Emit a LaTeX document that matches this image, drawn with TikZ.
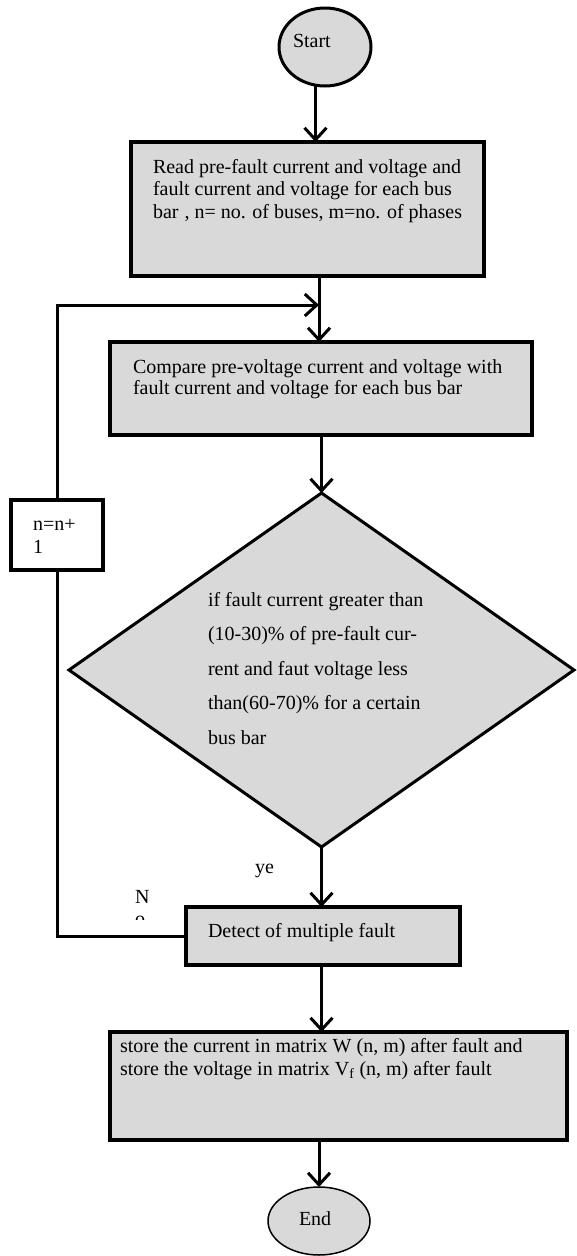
\documentclass[tikz,border=0pt]{standalone}
\usepackage{fontspec}
\setmainfont{Liberation Serif}
\usetikzlibrary{arrows.meta,shapes.geometric,calc}
\definecolor{boxgray}{HTML}{D9D9D9}
\newcommand\flowtext[2]{\parbox[t]{#1}{\raggedright #2}}
\begin{document}
\begin{tikzpicture}[x=1pt,y=1pt,
  every node/.style={inner sep=0pt, outer sep=0pt},
  txt/.style={anchor=base west, font=\fontsize{20}{22}\selectfont},
  procbox/.style={draw, fill=boxgray, line width=3.5pt, anchor=north west, rectangle},
  arr/.style={line width=3pt, -{Straight Barb[length=12pt,width=22pt]}},
  link/.style={line width=3pt},
]
\useasboundingbox (0,0) rectangle (576,-1256);

% shapes
\node[draw, fill=boxgray, ellipse, line width=3pt, minimum width=92pt, minimum height=78pt] (start) at (325,-47) {};
\node[procbox, minimum width=353pt, minimum height=134pt] (box1) at (131,-142) {};
\node[procbox, minimum width=422pt, minimum height=93pt] (box2) at (110,-342) {};
\node[procbox, fill=white, minimum width=92pt, minimum height=70pt] (nbox) at (11,-500) {};
\node[draw, fill=boxgray, diamond, line width=3pt, minimum width=505pt, minimum height=354pt] (dia) at (321.5,-670) {};
\node[procbox, minimum width=274pt, minimum height=58pt] (box3) at (186,-907) {};
\node[procbox, minimum width=457pt, minimum height=108pt] (box4) at (110,-1032) {};
\node[draw, fill=boxgray, ellipse, line width=1.5pt, minimum width=102pt, minimum height=68pt] (endn) at (319,-1221) {};

% texts
\node[txt] (tstart) at (293,-47) {Start};
\node[txt] (t1) at (153,-173) {\flowtext{340pt}{\fontsize{20}{22.5}\selectfont Read pre-fault current and voltage and\\ fault current and voltage for each bus\\ bar\hspace{6pt}, n= no. of buses, m=no. of phases}};
\node[txt] (t2) at (133,-373) {\flowtext{400pt}{\fontsize{20}{21.5}\selectfont Compare pre-voltage current and voltage with\\ fault current and voltage for each bus bar}};
\node[txt] (tn) at (33,-530) {\flowtext{60pt}{\fontsize{20}{23}\selectfont n=n+\\ 1}};
\node[txt] (td) at (208,-606) {\flowtext{260pt}{\fontsize{20}{34.6}\selectfont if fault current greater than\\ (10-30)\% of pre-fault cur-\\ rent and faut voltage less\\ than(60-70)\% for a certain\\ bus bar}};
\node[txt] (t3) at (208,-937) {Detect of multiple fault};
\node[txt] (t4) at (120,-1052) {\flowtext{450pt}{\fontsize{20}{23}\selectfont store the current in matrix W (n, m) after fault and\\ store the voltage in matrix V\textsubscript{f} (n, m) after fault}};
\node[txt] (tend) at (299,-1225) {End};

\begin{scope}
\clip (240,-850) rectangle (300,-884.5);
\node[txt] (yes) at (255,-873) {\flowtext{30pt}{ye\\ s}};
\end{scope}
\begin{scope}
\clip (120,-880) rectangle (170,-919.5);
\node[txt] (no) at (135,-903) {\flowtext{30pt}{N\\ o}};
\end{scope}

% connectors
\coordinate (j) at (319,-305);
\draw[arr] (start.-104) -- (start.-104 |- box1.north);
\draw[arr] (box1.south -| j) -- (j |- box2.north);
\draw[arr] (nbox.north) |- (j);
\draw[arr] (box2.south -| dia.north) -- (dia.north);
\draw[arr] (dia.south) -- (dia.south |- box3.north);
\draw[arr] (dia.south |- box3.south) -- (dia.south |- box4.north);
\draw[arr] (box4.south -| endn.north) -- (endn.north);
\draw[link] (box3.west) -| (nbox.south);
\end{tikzpicture}
\end{document}
